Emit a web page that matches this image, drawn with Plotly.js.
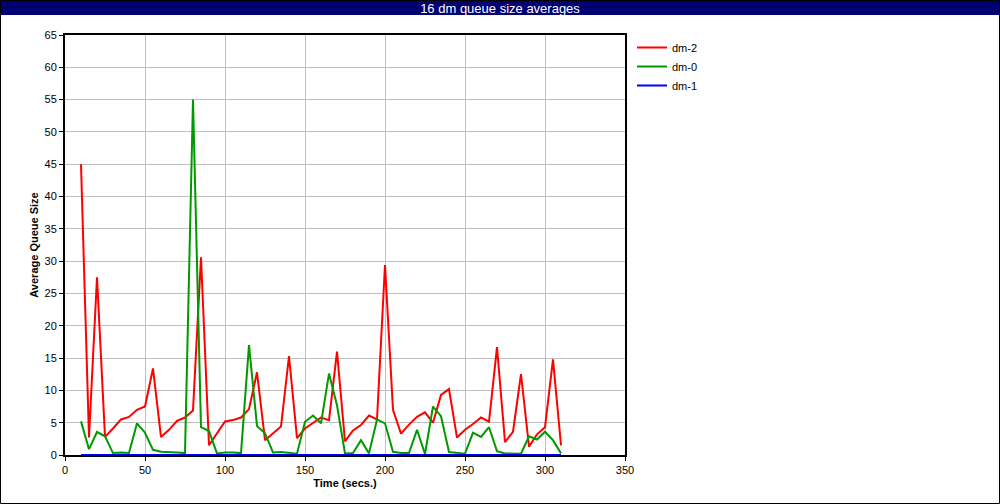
<!DOCTYPE html>
<html>
<head>
<meta charset="utf-8">
<script src="https://cdn.plot.ly/plotly-3.0.1.min.js"></script>
<style>
html,body{margin:0;padding:0;background:#fff;}
#chart{width:1000px;height:504px;}
</style>
</head>
<body>
<div id="chart"></div>
<script>
var timeSecs = [10,15,20,25,30,35,40,45,50,55,60,65,70,75,80,85,90,95,100,105,110,115,120,125,130,135,140,145,150,155,160,165,170,175,180,185,190,195,200,205,210,215,220,225,230,235,240,245,250,255,260,265,270,275,280,285,290,295,300,305,310];
var dm2 = [45,2.7,27.5,2.8,4.1,5.5,5.9,7.0,7.5,13.4,2.8,3.9,5.3,5.8,6.9,30.6,1.5,3.4,5.2,5.4,5.8,7.1,12.8,2.3,3.35,4.4,15.3,2.6,4.1,5.0,5.8,5.4,16.0,2.1,3.8,4.65,6.1,5.5,29.4,7.0,3.3,4.7,5.9,6.6,5.0,9.3,10.2,2.7,3.9,4.8,5.8,5.15,16.7,2.0,3.6,12.5,1.3,3.2,4.3,14.8,1.5];
var dm0 = [5.2,0.9,3.56,2.9,0.3,0.4,0.3,4.9,3.45,0.8,0.5,0.5,0.4,0.3,55,4.3,3.7,0.25,0.4,0.4,0.3,17.0,4.5,3.35,0.4,0.45,0.3,0.2,5.15,6.1,4.9,12.6,7.7,0.25,0.3,2.3,0.25,5.5,4.9,0.5,0.3,0.3,3.9,0.15,7.5,6.0,0.45,0.3,0.2,3.45,2.8,4.3,0.6,0.25,0.2,0.2,2.9,2.4,3.6,2.3,0.25];
var dm1 = [0,0,0,0,0,0,0,0,0,0,0,0,0,0,0,0,0,0,0,0,0,0,0,0,0,0,0,0,0,0,0,0,0,0,0,0,0,0,0,0,0,0,0,0,0,0,0,0,0,0,0,0,0,0,0,0,0,0,0,0,0];
var seriesNames = ['dm-2','dm-0','dm-1'];
var seriesColors = ['#ff0000','#009900','#0000ff'];
var xTicks = [0,50,100,150,200,250,300,350];
var yTicks = [0,5,10,15,20,25,30,35,40,45,50,55,60,65];
var chartTitle = '16 dm queue size averages';

var F = '"Liberation Sans Narrow", "Liberation Sans", Arial, sans-serif';
var values = [dm2, dm0, dm1];
var traces = values.map(function(v, i){
  return {x: timeSecs, y: v, type: 'scatter', mode: 'lines', name: seriesNames[i],
          line: {color: seriesColors[i], width: 2}};
});

// plot area: x 65..625, y 35..455
var L = 65, R = 625, T = 35, B = 455;
var W = R - L, H = B - T;
function px(x){ return (x - L) / W; }
function py(y){ return (B - y) / H; }

var layout = {
  width: 1000, height: 504,
  margin: {l: L, r: 1000 - R, t: T, b: 504 - B, pad: 0},
  paper_bgcolor: '#ffffff', plot_bgcolor: '#ffffff',
  showlegend: true,
  title: {text: chartTitle, font: {family: F, size: 13, color: '#ffffff'},
          x: 0.5, xref: 'container', xanchor: 'center', y: 1 - 8/504, yref: 'container', yanchor: 'middle'},
  font: {family: F, size: 11, color: '#000000'},
  xaxis: {range: [0, 350], tickvals: xTicks, ticktext: xTicks.map(String), ticks: 'outside', ticklen: 4,
          tickcolor: '#000', showline: true, linecolor: '#000', linewidth: 2, mirror: true,
          showgrid: true, gridcolor: '#c0c0c0', gridwidth: 1, zeroline: false,
          tickfont: {family: F, size: 11, color: '#000'},
          title: {text: '<b>Time (secs.)</b>', font: {family: F, size: 11, color: '#000'}, standoff: 4}},
  yaxis: {range: [0, 65], tickvals: yTicks, ticktext: yTicks.map(String), ticks: 'outside', ticklen: 4,
          tickcolor: '#000', showline: true, linecolor: '#000', linewidth: 2, mirror: true,
          showgrid: true, gridcolor: '#c0c0c0', gridwidth: 1, zeroline: false,
          tickfont: {family: F, size: 11, color: '#000'},
          title: {text: '<b>Average Queue Size</b>', font: {family: F, size: 11, color: '#000'}, standoff: 4}},
  legend: {x: px(632), y: py(33), xanchor: 'left', yanchor: 'top', bgcolor: 'rgba(0,0,0,0)',
           font: {family: F, size: 11, color: '#000'}, itemwidth: 30, tracegroupgap: 0},
  shapes: [
    {type: 'rect', xref: 'paper', yref: 'paper', x0: px(0), x1: px(1000), y0: py(15), y1: py(0),
     fillcolor: '#000070', line: {width: 0}, layer: 'below'},
    {type: 'rect', xref: 'paper', yref: 'paper', x0: px(0.5), x1: px(999.5), y0: py(503.5), y1: py(0.5),
     fillcolor: 'rgba(0,0,0,0)', line: {color: '#000', width: 1}}
  ]
};

Plotly.newPlot('chart', traces, layout, {displayModeBar: false, staticPlot: true});
</script>
</body>
</html>
